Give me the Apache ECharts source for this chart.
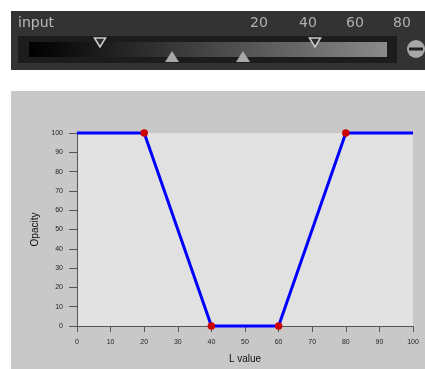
<!DOCTYPE html>
<html>
<head>
<meta charset="utf-8">
<script src="https://cdn.jsdelivr.net/npm/echarts@6/dist/echarts.min.js"></script>
<style>
  html, body { margin: 0; padding: 0; background: #fff; }
  #chart { width: 425px; height: 369px; }
</style>
</head>
<body>
<div id="chart"></div>
<script>
// opacity curve: L value -> opacity
const lValues = [0, 20, 40, 60, 80, 100]
const opacity = [100, 100, 0, 0, 100, 100]
// control points shown as red dots
const knotL = [20, 40, 60, 80]
const knotOpacity = [100, 0, 0, 100]
// labels on the input slider widget
const inputTicks = ['20', '40', '60', '80']

const chart = echarts.init(document.getElementById('chart'))

const tickX = [259, 308, 355, 402]

function triDown(cx) {
  return {
    type: 'polygon',
    shape: { points: [[cx - 5.5, 38], [cx + 5.5, 38], [cx, 47]] },
    style: { fill: '#2a2a2a', stroke: '#c8c8c8', lineWidth: 1.6 },
    z: 5
  }
}

function triUp(cx) {
  return {
    type: 'polygon',
    shape: { points: [[cx - 7, 62], [cx + 7, 62], [cx, 51]] },
    style: { fill: '#a8a8a8' },
    z: 5
  }
}

const widget = [
  { type: 'rect', shape: { x: 11, y: 11, width: 414, height: 59 }, style: { fill: '#333333' }, z: 1 },
  { type: 'rect', shape: { x: 18, y: 36, width: 379, height: 27 }, style: { fill: '#1c1c1c' }, z: 2 },
  {
    type: 'rect',
    shape: { x: 29, y: 42, width: 358, height: 15 },
    style: {
      fill: new echarts.graphic.LinearGradient(0, 0, 1, 0, [
        { offset: 0, color: '#000000' },
        { offset: 1, color: '#8a8a8a' }
      ])
    },
    z: 3
  },
  {
    type: 'text', x: 18, y: 23,
    style: { text: 'input', fill: '#b8b8b8', font: '14px "DejaVu Sans"', verticalAlign: 'middle' },
    z: 5
  },
  ...inputTicks.map((t, i) => ({
    type: 'text', x: tickX[i], y: 23,
    style: { text: t, fill: '#b0b0b0', font: '14px "DejaVu Sans"', align: 'center', verticalAlign: 'middle' },
    z: 5
  })),
  triDown(100), triDown(315),
  triUp(172), triUp(243),
  { type: 'circle', shape: { cx: 416, cy: 49, r: 9 }, style: { fill: '#a8a8a8' }, z: 5 },
  { type: 'rect', shape: { x: 409, y: 47.5, width: 14, height: 3 }, style: { fill: '#222' }, z: 6 },
  // chart panel background
  { type: 'rect', shape: { x: 11, y: 91, width: 414, height: 278 }, style: { fill: '#c8c8c8' }, z: -10 }
]

const axisCommon = {
  type: 'value',
  min: 0,
  max: 100,
  interval: 10,
  axisLine: { show: true, lineStyle: { color: '#555', width: 1 } },
  splitLine: { show: false },
  axisLabel: { color: '#222', fontSize: 7, fontFamily: 'Liberation Sans' },
  nameTextStyle: { color: '#111', fontSize: 10, fontFamily: 'Liberation Sans' }
}

chart.setOption({
  backgroundColor: '#ffffff',
  animation: false,
  graphic: { elements: widget },
  grid: {
    left: 77, top: 133, right: 12, bottom: 41,
    show: true, backgroundColor: '#e1e1e1', borderWidth: 0
  },
  xAxis: {
    ...axisCommon,
    name: 'L value',
    nameLocation: 'middle',
    nameGap: 28,
    axisTick: { show: true, length: 6, lineStyle: { color: '#555' } },
    axisLabel: { ...axisCommon.axisLabel, margin: 13 }
  },
  yAxis: {
    ...axisCommon,
    name: 'Opacity',
    nameLocation: 'middle',
    nameGap: 35,
    axisTick: { show: true, length: 8, lineStyle: { color: '#555' } },
    axisLabel: { ...axisCommon.axisLabel, margin: 14 }
  },
  series: [
    {
      type: 'line',
      data: lValues.map((x, i) => [x, opacity[i]]),
      showSymbol: false,
      clip: false,
      lineStyle: { color: '#0000ff', width: 3 },
      z: 3
    },
    {
      type: 'scatter',
      data: knotL.map((x, i) => [x, knotOpacity[i]]),
      symbolSize: 7.5,
      clip: false,
      itemStyle: { color: '#cc0000', opacity: 1 },
      z: 4
    }
  ]
})
</script>
</body>
</html>
